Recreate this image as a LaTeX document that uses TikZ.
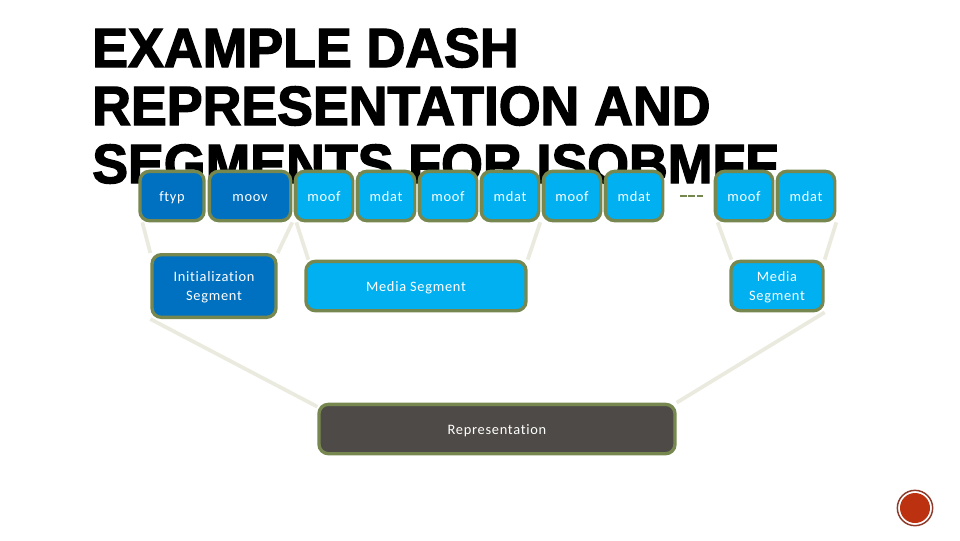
\documentclass[tikz,border=0pt]{standalone}
\usepackage{fontspec}
\setmainfont{Carlito}[LetterSpace=5,Ligatures=NoCommon]
\newfontfamily\titlefont{Liberation Sans Bold}[FakeBold=2.5,FakeStretch=0.97]
\usepackage{xcolor}
\usetikzlibrary{positioning,backgrounds}
\definecolor{darkblue}{HTML}{0070C0}
\definecolor{lightblue}{HTML}{00B0F0}
\definecolor{oliveedge}{HTML}{76884F}
\definecolor{repgray}{HTML}{4E4A47}
\definecolor{linkgray}{HTML}{EAEADF}
\definecolor{markedge}{HTML}{8E3A2A}
\definecolor{markfill}{HTML}{BC3210}
\tikzset{
 box/.style={draw=oliveedge,line width=2.5pt,rounded corners=7pt,text=white,font=\fontsize{10.8}{14.2}\selectfont,align=center,inner sep=0pt},
 oneline/.style={text height=7.5pt,text depth=0pt},
 twoline/.style={text height=23.7pt},
 initbox/.style={box,fill=darkblue},
 mediabox/.style={box,fill=lightblue},
 link/.style={draw=linkgray,line width=2.8pt},
 titleline/.style={anchor=west,inner sep=0pt,font=\titlefont\fontsize{41.5}{42}\selectfont}
}
\begin{document}
\begin{tikzpicture}[x=0.75pt,y=-0.75pt]
\useasboundingbox (0,0) rectangle (960,540);
% title
\node[titleline] (line1) at (92,48){EXAMPLE DASH};
\node[titleline] (line2) at (92,106){REPRESENTATION AND};
\node[titleline] (line3) at (92,164){SEGMENTS FOR ISOBMFF};
% top row
\node[initbox,oneline,minimum width=48pt,minimum height=37pt] (ftyp) at (172,196){ftyp};
\node[initbox,oneline,minimum width=61pt,minimum height=37pt] (moov) at (250,196){moov};
\foreach \nm/\lbl/\cx in {moofa/moof/324,mdata/mdat/386,moofb/moof/448,mdatb/mdat/510,moofc/moof/572,mdatc/mdat/634,moofd/moof/744,mdatd/mdat/806}{
 \node[mediabox,oneline,minimum width=43pt,minimum height=37pt] (\nm) at (\cx,196){\lbl};}
% segments
\node[initbox,twoline,minimum width=93pt,minimum height=47pt] (initseg) at (214,286){Initialization\\Segment};
\node[mediabox,oneline,minimum width=165pt,minimum height=37pt] (mediaseg) at (416,286){Media Segment};
\node[mediabox,twoline,minimum width=69pt,minimum height=37pt] (lastseg) at (777,286){Media\\Segment};
\node[box,oneline,fill=repgray,minimum width=267pt,minimum height=37pt] (repr) at (497,429){Representation};
% gap between the last two pairs
\coordinate (gapl) at (680,196);
\coordinate (gapr) at (704,196);
\draw[draw=oliveedge,line width=2.2pt,dash pattern=on 5pt off 1.2pt] (gapl)--(gapr);
% links go behind the boxes
\begin{scope}[on background layer]
\draw[link] ([xshift=3pt]ftyp.south west)--(initseg.north west);
\draw[link] (moov.south east)--(initseg.north east);
\draw[link] ([xshift=2pt]moofa.south west)--([xshift=3pt]mediaseg.north west);
\draw[link] (mdatb.south east)--(mediaseg.north east);
\draw[link] ([xshift=3pt]moofd.south west)--([xshift=1.5pt]lastseg.north west);
\draw[link] (mdatd.south east)--(lastseg.north east);
\draw[link] (initseg.south west)--([yshift=-3pt]repr.north west);
\draw[link] (lastseg.south east)--(repr.north east);
\end{scope}
% slide mark
\node[circle,fill=white,minimum size=26pt,inner sep=0pt] (markring) at (915,508){};
\node[circle,draw=markedge,line width=1.1pt,minimum size=26.5pt,inner sep=0pt] (markrim) at (915,508){};
\node[circle,fill=markfill,minimum size=22.5pt,inner sep=0pt] (markdot) at (915,508){};
\end{tikzpicture}
\end{document}
